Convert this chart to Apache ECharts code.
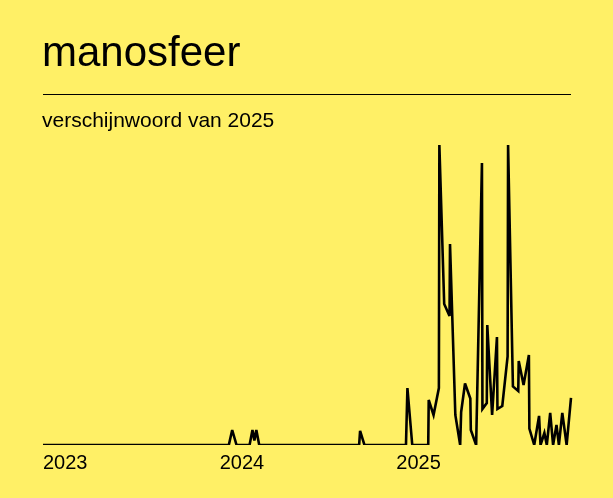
<!DOCTYPE html>
<html>
<head>
<meta charset="utf-8">
<script src="https://cdn.jsdelivr.net/npm/echarts@6/dist/echarts.min.js"></script>
<style>
html,body{margin:0;padding:0;background:#fff066;}
#chart{width:613px;height:498px;}
</style>
</head>
<body>
<div id="chart"></div>
<script>
// Relative search interest (0–100)
var dates = [
  '2023-01-01',
  '2024-01-20','2024-01-27','2024-02-05',
  '2024-03-03','2024-03-09','2024-03-13','2024-03-17','2024-03-23',
  '2024-10-16','2024-10-18','2024-10-27',
  '2025-01-21','2025-01-24','2025-02-03',
  '2025-03-08','2025-03-09','2025-03-19','2025-03-30','2025-03-31',
  '2025-04-10','2025-04-21','2025-04-22','2025-05-03','2025-05-13',
  '2025-05-15','2025-05-23','2025-06-03','2025-06-04','2025-06-15',
  '2025-06-27','2025-06-28','2025-07-07','2025-07-08','2025-07-18',
  '2025-07-28','2025-07-29','2025-08-08','2025-08-19','2025-08-20',
  '2025-08-30','2025-09-10','2025-09-11','2025-09-21','2025-10-02',
  '2025-10-03','2025-10-13','2025-10-23','2025-10-26','2025-11-03',
  '2025-11-08','2025-11-15','2025-11-21','2025-11-28','2025-12-03',
  '2025-12-10','2025-12-19','2025-12-28'
];
var values = [
  0,
  0, 5, 0,
  0, 5, 1.5, 5, 0,
  0, 4.7, 0,
  0, 19, 0,
  0, 15, 10, 19, 100,
  47, 43, 67, 10, 0,
  11, 20.5, 15.5, 5, 0,
  94, 12, 14, 40, 10,
  36, 12, 13, 29.5, 100,
  19.5, 18, 28, 20, 30,
  5.5, 0, 9.7, 0, 4,
  0, 10.7, 0, 6.7, 0,
  10.7, 0, 15.7
];
var yearTicks = [2023, 2024, 2025];

var titleText = 'manosfeer';
var subtitleText = 'verschijnwoord van 2025';

function decimalYear(s) {
  var p = s.split('-').map(Number);
  var y = p[0];
  var start = Date.UTC(y, 0, 1), end = Date.UTC(y + 1, 0, 1);
  return y + (Date.UTC(y, p[1] - 1, p[2]) - start) / (end - start);
}

var seriesData = dates.map(function (d, i) { return [decimalYear(d), values[i]]; });
var xMin = yearTicks[0];
var xMax = decimalYear(dates[dates.length - 1]);

var bg = '#fff066';
var font = '"Liberation Sans", Arial, Helvetica, sans-serif';

var chart = echarts.init(document.getElementById('chart'), null, {renderer: 'canvas'});
chart.setOption({
  backgroundColor: bg,
  animation: false,
  title: [
    {text: titleText, left: 42, top: 33, padding: 0,
     textStyle: {fontFamily: font, fontSize: 42, fontWeight: 'normal', color: '#000'}},
    {text: subtitleText, left: 42, top: 111, padding: 0,
     textStyle: {fontFamily: font, fontSize: 21, fontWeight: 'normal', color: '#000'}}
  ],
  grid: {left: 43, right: 42, top: 145, bottom: 53, containLabel: false},
  xAxis: {
    type: 'value', min: xMin, max: xMax, interval: 1,
    axisLine: {show: false}, axisTick: {show: false}, splitLine: {show: false},
    axisLabel: {
      show: true, margin: 8, align: 'left', color: '#000',
      fontFamily: font, fontSize: 20, showMaxLabel: false,
      formatter: function (v) { return yearTicks.indexOf(v) >= 0 ? String(v) : ''; }
    }
  },
  yAxis: {type: 'value', min: 0, max: 100, show: false, splitLine: {show: false}},
  series: [{
    type: 'line', data: seriesData, showSymbol: false, symbol: 'none',
    lineStyle: {color: '#000', width: 2.6, join: 'miter', miterLimit: 4},
    clip: true, z: 2
  }],
  graphic: [
    {type: 'line', z: 10, shape: {x1: 43, y1: 94.5, x2: 571, y2: 94.5},
     style: {stroke: '#000', lineWidth: 1}},
    {type: 'rect', z: 10, shape: {x: 36, y: 445, width: 545, height: 6},
     style: {fill: bg}}
  ]
});
</script>
</body>
</html>
